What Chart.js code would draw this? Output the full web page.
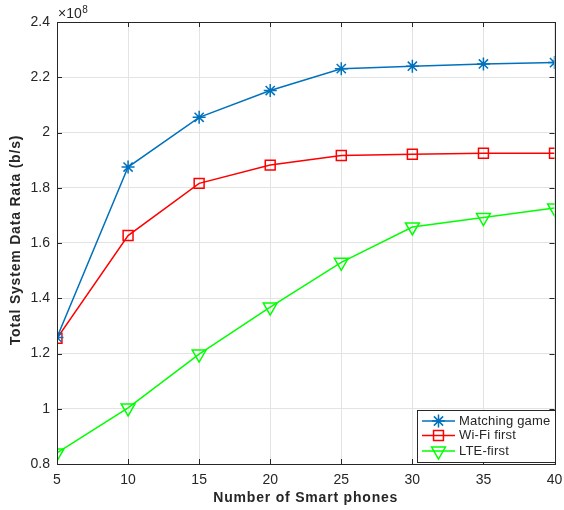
<!DOCTYPE html>
<html>
<head>
<meta charset="utf-8">
<script src="https://cdn.jsdelivr.net/npm/chart.js@4/dist/chart.umd.min.js"></script>
<style>
  html, body { margin: 0; padding: 0; background: #fff; }
  #wrap { width: 564px; height: 510px; }
</style>
</head>
<body>
<div id="wrap"><canvas id="c" width="564" height="510"></canvas></div>
<script>
// ---- data (values in units of 1e8 b/s) ----
const smartPhones = [5, 10, 15, 20, 25, 30, 35, 40];
const matchingGame = [1.258, 1.875, 2.055, 2.152, 2.231, 2.240, 2.248, 2.253];
const wifiFirst    = [1.255, 1.627, 1.816, 1.882, 1.917, 1.921, 1.925, 1.925];
const lteFirst     = [0.840, 1.003, 1.198, 1.368, 1.530, 1.658, 1.692, 1.727];
const seriesNames  = ['Matching game', 'Wi-Fi first', 'LTE-first'];
const yTicks = [0.8, 1, 1.2, 1.4, 1.6, 1.8, 2, 2.2, 2.4];
const xTicks = [5, 10, 15, 20, 25, 30, 35, 40];
const xTitle = 'Number of Smart phones';
const yTitle = 'Total System Data Rata (b/s)';
const exponentBase = '\u00d710';
const exponentPow = '8';

const FONT = '"Liberation Sans", Arial, Helvetica, sans-serif';
const AXC = '#262626';

function pts(arr) { return arr.map((v, i) => ({ x: smartPhones[i], y: v })); }

const decorPlugin = {
  id: 'decor',
  afterDraw(chart) {
    const ctx = chart.ctx;
    const a = chart.chartArea;
    const xs = chart.scales.x, ys = chart.scales.y;
    ctx.save();
    // box
    ctx.strokeStyle = AXC;
    ctx.lineWidth = 1;
    ctx.strokeRect(Math.round(a.left) + 0.5, Math.round(a.top) + 0.5,
                   Math.round(a.right - a.left), Math.round(a.bottom - a.top));
    // inward ticks
    const tl = 5;
    ctx.beginPath();
    xTicks.forEach(v => {
      const px = Math.round(xs.getPixelForValue(v)) + 0.5;
      ctx.moveTo(px, a.bottom); ctx.lineTo(px, a.bottom - tl);
      ctx.moveTo(px, a.top); ctx.lineTo(px, a.top + tl);
    });
    yTicks.forEach(v => {
      const py = Math.round(ys.getPixelForValue(v)) + 0.5;
      ctx.moveTo(a.left, py); ctx.lineTo(a.left + tl, py);
      ctx.moveTo(a.right, py); ctx.lineTo(a.right - tl, py);
    });
    ctx.stroke();

    // axis titles
    ctx.fillStyle = AXC;
    ctx.font = 'bold 14px ' + FONT;
    ctx.letterSpacing = '0.8px';
    ctx.textAlign = 'center';
    ctx.textBaseline = 'middle';
    ctx.fillText(xTitle, (a.left + a.right) / 2, 498);
    ctx.save();
    ctx.translate(16, 240);
    ctx.rotate(-Math.PI / 2);
    ctx.fillText(yTitle, 0, 0);
    ctx.restore();
    ctx.letterSpacing = '0px';

    // exponent
    ctx.font = '14px ' + FONT;
    ctx.textAlign = 'left';
    ctx.textBaseline = 'alphabetic';
    ctx.fillText(exponentBase, a.left + 1, 18);
    const w = ctx.measureText(exponentBase).width;
    ctx.font = '10px ' + FONT;
    ctx.fillText(exponentPow, a.left + 1 + w + 0.5, 13);

    // legend
    const lx = 417.5, ly = 410.5, lw = 138, lh = 52;
    ctx.fillStyle = '#fff';
    ctx.fillRect(lx, ly, lw, lh);
    ctx.strokeStyle = AXC;
    ctx.lineWidth = 1;
    ctx.strokeRect(lx, ly, lw, lh);
    const rows = [421, 435.5, 451];
    chart.data.datasets.forEach((ds, i) => {
      const y = rows[i];
      ctx.strokeStyle = ds.borderColor;
      ctx.lineWidth = ds.borderWidth;
      ctx.beginPath();
      ctx.moveTo(422, y); ctx.lineTo(455, y);
      ctx.stroke();
      ctx.fillStyle = 'rgba(0,0,0,0)';
      ctx.strokeStyle = ds.borderColor;
      ctx.lineWidth = ds.pointBorderWidth;
      Chart.helpers.drawPoint(ctx, {
        pointStyle: ds.pointStyle,
        radius: ds.pointRadius,
        rotation: ds.pointRotation || 0,
        borderWidth: ds.pointBorderWidth
      }, 438.5, y);
      ctx.fillStyle = AXC;
      ctx.font = '13px ' + FONT;
      ctx.letterSpacing = '0.2px';
      ctx.textAlign = 'left';
      ctx.textBaseline = 'middle';
      ctx.fillText(ds.label, 459, y);
      ctx.letterSpacing = '0px';
    });
    ctx.restore();
  }
};

function mkDs(label, data, color, style, radius, rot) {
  return {
    label: label,
    data: pts(data),
    borderColor: color,
    backgroundColor: 'rgba(0,0,0,0)',
    pointBackgroundColor: 'rgba(0,0,0,0)',
    pointBorderColor: color,
    borderWidth: 1.5,
    pointBorderWidth: 1.5,
    pointStyle: style,
    pointRadius: radius,
    pointHoverRadius: radius,
    pointRotation: rot || 0,
    tension: 0,
    fill: false
  };
}

new Chart(document.getElementById('c'), {
  type: 'line',
  data: {
    datasets: [
      mkDs(seriesNames[0], matchingGame, '#0072BD', 'star', 6.5),
      mkDs(seriesNames[1], wifiFirst, '#FF0000', 'rect', 7),
      mkDs(seriesNames[2], lteFirst, '#00FF00', 'triangle', 8, 180)
    ]
  },
  options: {
    responsive: false,
    animation: false,
    devicePixelRatio: 1,
    layout: { padding: { top: 22, right: 0, left: 0, bottom: 0 } },
    plugins: { legend: { display: false }, tooltip: { enabled: false } },
    scales: {
      x: {
        type: 'linear',
        min: 5, max: 40,
        afterBuildTicks: s => { s.ticks = xTicks.map(v => ({ value: v })); },
        afterFit: s => { s.height = 46; s.paddingRight = 8; },
        grid: { color: '#e3e3e3', drawTicks: false },
        border: { display: false },
        ticks: { color: AXC, font: { family: FONT, size: 14 }, padding: 8, maxRotation: 0 }
      },
      y: {
        type: 'linear',
        min: 0.8, max: 2.4,
        afterBuildTicks: s => { s.ticks = yTicks.map(v => ({ value: v })); },
        afterFit: s => { s.width = 57; },
        grid: { color: '#e3e3e3', drawTicks: false },
        border: { display: false },
        ticks: {
          color: AXC, font: { family: FONT, size: 14 }, padding: 7,
          callback: v => String(Number(v.toFixed(1)))
        }
      }
    }
  },
  plugins: [decorPlugin]
});
</script>
</body>
</html>
